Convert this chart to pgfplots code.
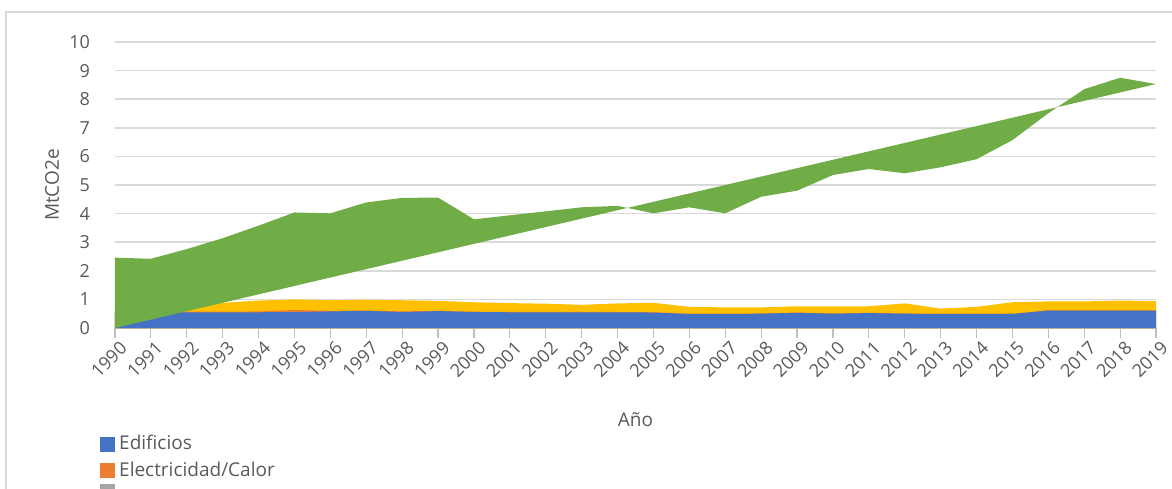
\documentclass[border=0pt]{standalone}
\usepackage{fontspec}
\setmainfont{Open Sans}
\usepackage{pgfplots}
\pgfplotsset{compat=1.18}

\definecolor{xblue}{HTML}{4472C4}
\definecolor{xorange}{HTML}{ED7D31}
\definecolor{xgray}{HTML}{A5A5A5}
\definecolor{xyellow}{HTML}{FFC000}
\definecolor{xgreen}{HTML}{70AD47}
\definecolor{gridgray}{HTML}{D9D9D9}
\definecolor{axisgray}{HTML}{BFBFBF}
\definecolor{txtgray}{HTML}{595959}

\begin{document}
\begin{tikzpicture}
\useasboundingbox (0,0) rectangle (586pt,244pt);
% chart frame (only top and left edges are visible)
\draw[gridgray, line width=0.6pt] (3pt,-5pt) -- (3pt,238pt) -- (595pt,238pt);
\begin{axis}[
  at={(57.5pt,80pt)}, anchor=south west,
  scale only axis, width=520.5pt, height=143pt,
  xmin=1990, xmax=2019, ymin=0, ymax=10,
  xtick={1990,1991,...,2019}, ytick={0,1,...,10},
  axis x line*=bottom, axis y line*=left,
  x axis line style={-, axisgray, line width=0.7pt},
  y axis line style={draw=none},
  xtick style={axisgray, line width=0.6pt},
  ytick style={draw=none},
  tick align=outside, major tick length=5pt,
  ymajorgrids, grid style={gridgray, line width=0.75pt},
  /pgf/number format/1000 sep={},
  /pgf/number format/assume math mode=true,
  tick label style={font=\fontsize{9}{10}\selectfont, text=txtgray},
  xticklabel style={rotate=45, anchor=north east, inner sep=0.8pt, yshift=-1.2pt, xshift=1.5pt},
  yticklabel style={xshift=-4pt},
  ylabel={MtCO2e}, xlabel={Año},
  label style={font=\fontsize{9.5}{11}\selectfont, text=txtgray},
  xlabel style={at={(axis description cs:0.5,-0.322)}, anchor=center},
  ylabel style={at={(axis description cs:-0.0605,0.5)}, anchor=center, rotate=0},
  legend style={at={(axis description cs:-0.0144,-0.36)}, anchor=north west,
    draw=none, fill=none, font=\fontsize{9.5}{11}\selectfont, text=txtgray,
    row sep=0.5pt, inner sep=0pt},
  legend cell align=left,
  legend image code/.code={\fill[#1] (0pt,-3.5pt) rectangle (7pt,3.5pt);},
]
% yellow (cumulative top of the lower stack)
\addplot[fill=xyellow, draw=none, forget plot] coordinates {
  (1990,0.78) (1991,0.80) (1992,0.84) (1993,0.88) (1994,0.96) (1995,1.00)
  (1996,0.97) (1997,0.99) (1998,0.97) (1999,0.95) (2000,0.90) (2001,0.87)
  (2002,0.85) (2003,0.81) (2004,0.86) (2005,0.88) (2006,0.74) (2007,0.72)
  (2008,0.72) (2009,0.76) (2010,0.76) (2011,0.76) (2012,0.86) (2013,0.68)
  (2014,0.74) (2015,0.90) (2016,0.93) (2017,0.93) (2018,0.96) (2019,0.94)
} \closedcycle;
% orange (Electricidad/Calor, cumulative)
\addplot[fill=xorange, draw=none, forget plot] coordinates {
  (1990,0.55) (1991,0.56) (1992,0.57) (1993,0.57) (1994,0.58) (1995,0.63)
  (1996,0.60) (1997,0.61) (1998,0.58) (1999,0.60) (2000,0.57) (2001,0.56)
  (2002,0.56) (2003,0.56) (2004,0.56) (2005,0.55) (2006,0.50) (2007,0.50)
  (2008,0.51) (2009,0.54) (2010,0.51) (2011,0.53) (2012,0.51) (2013,0.50)
  (2014,0.50) (2015,0.50) (2016,0.62) (2017,0.62) (2018,0.62) (2019,0.62)
} \closedcycle;
% blue (Edificios)
\addplot[fill=xblue, draw=none, forget plot] coordinates {
  (1990,0.53) (1991,0.54) (1992,0.55) (1993,0.55) (1994,0.55) (1995,0.56)
  (1996,0.58) (1997,0.60) (1998,0.56) (1999,0.59) (2000,0.56) (2001,0.55)
  (2002,0.55) (2003,0.55) (2004,0.55) (2005,0.54) (2006,0.49) (2007,0.49)
  (2008,0.50) (2009,0.53) (2010,0.50) (2011,0.52) (2012,0.50) (2013,0.49)
  (2014,0.49) (2015,0.49) (2016,0.61) (2017,0.61) (2018,0.61) (2019,0.61)
} \closedcycle;
% green polygon, closed straight back to (1990,0)
\addplot[fill=xgreen, draw=none, forget plot] coordinates {
  (1990,0)
  (1990,2.46) (1991,2.42) (1992,2.76) (1993,3.14) (1994,3.58) (1995,4.04)
  (1996,4.01) (1997,4.39) (1998,4.55) (1999,4.56) (2000,3.80) (2001,3.94)
  (2002,4.08) (2003,4.22) (2004,4.27) (2005,4.01) (2006,4.22) (2007,4.01)
  (2008,4.59) (2009,4.80) (2010,5.35) (2011,5.56) (2012,5.41) (2013,5.62)
  (2014,5.90) (2015,6.57) (2016,7.51) (2017,8.35) (2018,8.75) (2019,8.53)
};
\addlegendimage{xblue}\addlegendentry{Edificios}
\addlegendimage{xorange}\addlegendentry{Electricidad/Calor}
\addlegendimage{xgray}\addlegendentry{}
\end{axis}
\end{tikzpicture}
\end{document}
